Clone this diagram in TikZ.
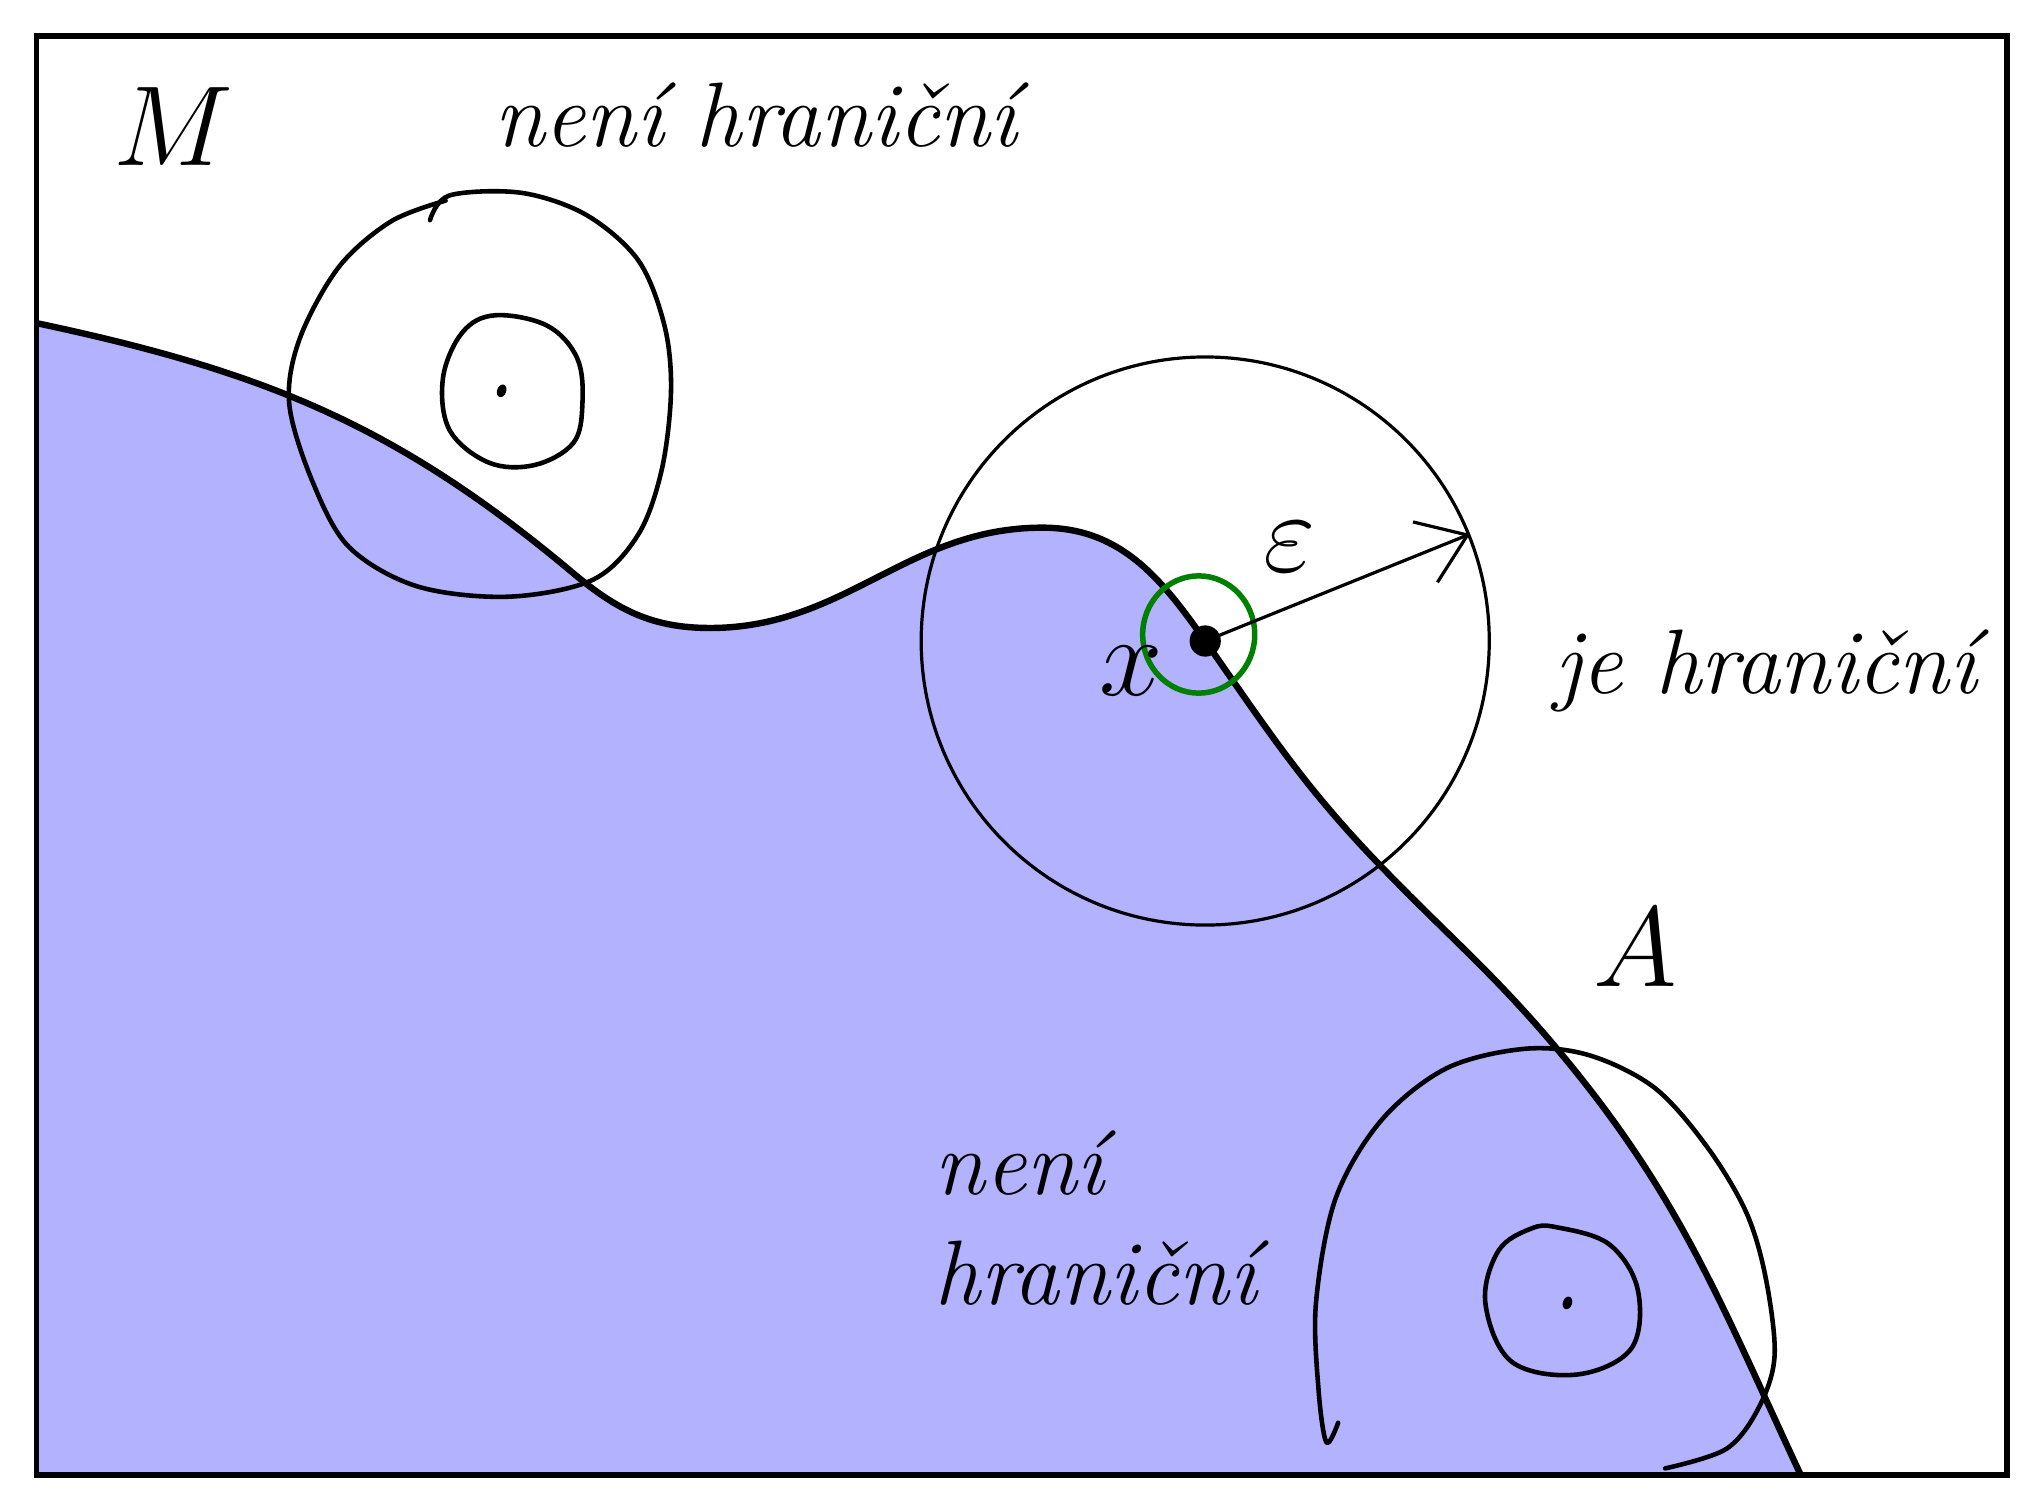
\documentclass[tikz,border=0pt]{standalone}
\usepackage{amsmath,amssymb}
\usepackage{tikz}
\usetikzlibrary{arrows.meta,positioning,calc,shapes.geometric}

\begin{document}
\begin{tikzpicture}[
        frame/.style={line width=1.3pt},
        regionA/.style={fill=blue!30},
        boundary/.style={line width=1.4pt},
        ball/.style={circle, draw, line width=0.7pt, inner sep=0pt},
        hand/.style={line width=1.0pt, line join=round, line cap=round},
        small ball/.style={ellipse, draw=green!50!black, line width=1.2pt, inner sep=0pt, minimum width=0.86cm, minimum height=0.9cm},
        point/.style={circle, fill, inner sep=0pt, minimum size=0.24cm},
        tiny/.style={ellipse, fill, inner sep=0pt, minimum width=0.07cm, minimum height=0.1cm},
        arrow/.style={-{Straight Barb[length=3.5mm,width=5mm]}, line width=0.7pt},
        setlabel/.style={font=\fontsize{24}{28}\selectfont},
        note/.style={font=\fontsize{20}{24}\selectfont\itshape, align=left},
    ]
        \useasboundingbox (0,0) rectangle (15.68,11.47);

        % Set A below the boundary
        \coordinate (x) at (9.25,6.55);
        \def\bdry{(0.28,8.99) to[out=-12,in=140] (4.40,7.07) to[out=-40,in=180] (5.45,6.65)
            to[out=0,in=180] (8.00,7.42) to[out=0,in=125] (x)
            to[out=-55,in=134] (10.60,4.82) to[out=-46,in=130] (11.95,3.42)
            to[out=-50,in=115] (13.82,0.15)}
        \fill[regionA] \bdry -- (0.28,0.15) -- cycle;
        \draw[boundary] \bdry;

        % Frame M
        \draw[frame] (0.28,0.15) rectangle (15.40,11.19);
        \node[setlabel] (M) at (1.33,10.50) {$M$};
        \node[setlabel] (A) at (12.55,4.20) {$A$};

        % Boundary point x with its neighbourhoods
        \node[ball, minimum size=4.36cm] (bigball) at (x) {};
        \node[small ball] (greenball) at (9.20,6.60) {};
        \node[point] (xdot) at (x) {};
        \draw[arrow] (x) -- (bigball.22);
        \node[setlabel] (eps) at (9.90,7.27) {$\varepsilon$};
        \node[setlabel] (xlabel) at (8.68,6.32) {$x$};
        \node[note] (je) at (13.55,6.32) {je hraniční};

        % Exterior point, top left
        \draw[hand] plot[smooth, tension=0.55] coordinates {(3.30,9.78) (3.45,9.97) (4.00,9.99)
            (4.50,9.82) (4.90,9.47) (5.10,8.97) (5.15,8.47) (5.08,7.87) (4.90,7.37)
            (4.55,7.02) (3.90,6.89) (3.20,6.97) (2.68,7.27) (2.40,7.77) (2.22,8.37)
            (2.30,8.87) (2.60,9.42) (3.00,9.77) (3.42,9.93)};
        \draw[hand] plot[smooth cycle, tension=0.6] coordinates {(3.80,9.05) (4.20,8.97)
            (4.43,8.72) (4.47,8.37) (4.40,8.07) (4.10,7.90) (3.75,7.92) (3.45,8.17)
            (3.40,8.57) (3.55,8.92)};
        \node[tiny, rotate=-20] (outdot) at (3.85,8.47) {};
        \node[note] (neni1) at (5.80,10.59) {není hraniční};

        % Interior point, bottom right
        \draw[hand] plot[smooth, tension=0.55] coordinates {(10.27,0.55) (10.18,0.40)
            (10.12,0.80) (10.10,1.47) (10.25,2.27) (10.60,2.87) (11.10,3.27)
            (11.70,3.42) (12.20,3.37) (12.70,3.12) (13.10,2.67) (13.40,2.17)
            (13.55,1.67) (13.62,1.07) (13.50,0.67) (13.25,0.35) (12.78,0.20)};
        \draw[hand] plot[smooth cycle, tension=0.6] coordinates {(11.95,2.05) (12.35,1.92)
            (12.57,1.57) (12.52,1.12) (12.10,0.92) (11.60,1.02) (11.40,1.47)
            (11.50,1.87) (11.75,2.04)};
        \node[tiny, rotate=-20] (indot) at (12.03,1.47) {};
        \node[note, anchor=west] (neni2) at (7.05,2.12) {není\\hraniční};

    \end{tikzpicture}
\end{document}
